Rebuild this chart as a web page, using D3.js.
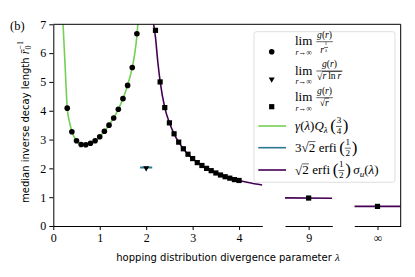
<!DOCTYPE html>
<html>
<head>
<meta charset="utf-8">
<script src="https://cdn.jsdelivr.net/npm/d3@7"></script>
<style>
  body { margin: 0; background: #fff; }
  svg { display: block; }
</style>
</head>
<body>
<div id="chart"></div>
<script>
// values
const dotLam = [0.3,0.4,0.5,0.6,0.7,0.8,0.9,1.0,1.1,1.2,1.3,1.4,1.5,1.6,1.7,1.8];
const dotVal = [4.09,3.27,2.96,2.83,2.82,2.87,2.96,3.10,3.29,3.50,3.75,4.05,4.42,4.88,5.50,6.67];
const triLam = [2.0];
const triVal = [1.99];
const sqLam = [2.2,2.3,2.4,2.5,2.6,2.7,2.8,2.9,3.0,3.1,3.2,3.3,3.4,3.5,3.6,3.7,3.8,3.9,4.0];
const sqVal = [6.79,5.0,4.11,3.58,3.2,2.91,2.68,2.49,2.34,2.2,2.1,2.0,1.92,1.84,1.77,1.71,1.66,1.61,1.58];
const sq9Lam = [9];
const sq9Val = [0.97];
const sqInfLam = [0];   // the "infinity" panel is centred on 0
const sqInfVal = [0.68];

// theory curves, sampled by eye
const greenLam = [0.21,0.25,0.3,0.35,0.4,0.5,0.6,0.7,0.8,0.9,1.0,1.1,1.2,1.3,1.4,1.5,1.6,1.7,1.75,1.8,1.82];
const greenVal = [7.0,5.7,4.1,3.6,3.28,2.96,2.84,2.82,2.87,2.96,3.10,3.29,3.50,3.75,4.05,4.42,4.88,5.50,5.95,6.6,7.0];
const tealLam = [1.87,2.13];
const tealVal = [2.03,2.03];
const purpleLam = [2.16,2.2,2.25,2.3,2.4,2.5,2.6,2.7,2.8,2.9,3.0,3.2,3.4,3.6,3.8,4.0,4.2,4.5];
const purpleVal = [7.0,6.55,5.7,5.02,4.11,3.58,3.2,2.91,2.68,2.49,2.34,2.1,1.92,1.77,1.66,1.58,1.51,1.42];
const purple9Lam = [8.49,9.51];
const purple9Val = [0.975,0.965];
const purpleInfLam = [-0.5,0.5];
const purpleInfVal = [0.68,0.68];

const yTicks = [0,1,2,3,4,5,6,7];
const mainTicks = [0,1,2,3,4];
const nineTicks = [9];
const infTicks = [0];

const GREEN = "#74d055", TEAL = "#2a788e", PURPLE = "#440154";
const SANS = "'DejaVu Sans', sans-serif";
const MF = "'Liberation Serif', 'DejaVu Serif', serif";

const W = 415, H = 277;
const yTop = 24.3, yBot = 226;

const svg = d3.select("#chart").append("svg")
  .attr("width", W).attr("height", H);

const y = d3.scaleLinear().domain([0, 7]).range([yBot, yTop]);
const xMain = d3.scaleLinear().domain([0, 4.5]).range([53.3, 262.3]);
const x9 = d3.scaleLinear().domain([8.49, 9.51]).range([285, 332.3]);
const xInf = d3.scaleLinear().domain([-0.5, 0.5]).range([354.3, 400.7]);

const zip = (a, b) => a.map((v, i) => [v, b[i]]);

const panels = [
  {id: "p0", x: xMain, ticks: mainTicks, fmt: d3.format("d")},
  {id: "p1", x: x9, ticks: nineTicks, fmt: d3.format("d")},
  {id: "p2", x: xInf, ticks: infTicks, fmt: () => "\u221e"}
];

const defs = svg.append("defs");
panels.forEach(p => {
  const r = p.x.range();
  defs.append("clipPath").attr("id", p.id)
    .append("rect").attr("x", r[0]).attr("y", yTop)
    .attr("width", r[1] - r[0]).attr("height", yBot - yTop);
});

function curve(p, lam, val, color, w) {
  const line = d3.line().x(d => p.x(d[0])).y(d => y(d[1])).curve(d3.curveMonotoneX);
  svg.append("path").datum(zip(lam, val))
    .attr("clip-path", "url(#" + p.id + ")")
    .attr("fill", "none").attr("stroke", color)
    .attr("stroke-width", w || 1.6).attr("d", line);
}

curve(panels[0], greenLam, greenVal, GREEN);
curve(panels[0], tealLam, tealVal, TEAL, 1.8);
curve(panels[0], purpleLam, purpleVal, PURPLE);
curve(panels[1], purple9Lam, purple9Val, PURPLE);
curve(panels[2], purpleInfLam, purpleInfVal, PURPLE);

// markers
function dots(p, lam, val) {
  svg.append("g").selectAll("circle").data(zip(lam, val)).join("circle")
    .attr("cx", d => p.x(d[0])).attr("cy", d => y(d[1]))
    .attr("r", 2.8).attr("fill", "#000");
}
function squares(p, lam, val) {
  svg.append("g").selectAll("rect").data(zip(lam, val)).join("rect")
    .attr("x", d => p.x(d[0]) - 2.6).attr("y", d => y(d[1]) - 2.6)
    .attr("width", 5.2).attr("height", 5.2).attr("fill", "#000");
}
const triDown = "M-3,-2.4L3,-2.4L0,2.8Z";
function tris(p, lam, val) {
  svg.append("g").selectAll("path").data(zip(lam, val)).join("path")
    .attr("transform", d => `translate(${p.x(d[0])},${y(d[1])})`)
    .attr("d", triDown).attr("fill", "#000");
}
dots(panels[0], dotLam, dotVal);
tris(panels[0], triLam, triVal);
squares(panels[0], sqLam, sqVal);
squares(panels[1], sq9Lam, sq9Val);
squares(panels[2], sqInfLam, sqInfVal);

// axes
panels.forEach(p => {
  const g = svg.append("g").attr("transform", `translate(0,${yBot})`)
    .call(d3.axisBottom(p.x).tickValues(p.ticks).tickFormat(p.fmt)
      .tickSize(4).tickSizeOuter(0).tickPadding(3));
  g.selectAll("text").attr("font-family", MF).attr("font-size", 12).attr("fill", "#000");
  g.selectAll("line,path").attr("stroke", "#000").attr("stroke-width", 1);
});
const gy = svg.append("g").attr("transform", `translate(${xMain.range()[0]},0)`)
  .call(d3.axisLeft(y).tickValues(yTicks).tickFormat(d3.format("d"))
    .tickSize(4).tickSizeOuter(0).tickPadding(3));
gy.selectAll("text").attr("font-family", MF).attr("font-size", 12).attr("fill", "#000");
gy.selectAll("line,path").attr("stroke", "#000").attr("stroke-width", 1);

// top and right spines
svg.append("line").attr("x1", xMain.range()[0]).attr("x2", xInf.range()[1])
  .attr("y1", yTop).attr("y2", yTop).attr("stroke", "#000");
svg.append("line").attr("x1", xInf.range()[1]).attr("x2", xInf.range()[1])
  .attr("y1", yTop).attr("y2", yBot).attr("stroke", "#000");

// labels
svg.append("text").attr("x", 10).attr("y", 30)
  .attr("font-family", MF).attr("font-size", 12.5).text("(b)");

const xl = svg.append("text").attr("x", 228).attr("y", 261)
  .attr("text-anchor", "middle").attr("font-family", SANS).attr("font-size", 10);
xl.append("tspan").text("hopping distribution divergence parameter ");
xl.append("tspan").attr("font-family", MF).attr("font-style", "italic").attr("font-size", 11).text("\u03bb");

const yl = svg.append("text").attr("transform", "translate(28.5,122) rotate(-90)")
  .attr("text-anchor", "middle").attr("font-family", SANS).attr("font-size", 10);
yl.append("tspan").text("median inverse decay length ");
yl.append("tspan").attr("font-family", MF).attr("font-style", "italic").attr("font-size", 12).text("r\u0304");
yl.append("tspan").attr("font-family", MF).attr("font-size", 8).attr("dy", 2.5).text("0");
yl.append("tspan").attr("font-family", MF).attr("font-size", 8).attr("dx", -4).attr("dy", -8).text("\u22121");

// legend
const leg = svg.append("g");
leg.append("rect").attr("x", 254).attr("y", 31.7).attr("width", 141).attr("height", 150.6)
  .attr("rx", 2.5).attr("fill", "#fff").attr("fill-opacity", 0.85)
  .attr("stroke", "#d6d6d6").attr("stroke-width", 0.8);

// tiny math typesetter: lays pieces left to right, returns end x
function run(g, items, x, yb, fs) {
  items.forEach(it => {
    if (typeof it === "string") it = {t: it};
    if (it.gap !== undefined) {
      x += it.gap;
    } else if (it.t !== undefined) {
      const el = g.append("text").attr("x", x).attr("y", yb + (it.dy || 0) * fs)
        .attr("font-family", MF).attr("font-size", fs * (it.s || 1))
        .attr("font-style", it.i ? "italic" : "normal").text(it.t);
      x += el.node().getComputedTextLength() + (it.sp || 0);
    } else if (it.frac) {
      const s = fs * (it.s || 0.7);
      const barY = yb + (it.dy || 0) * fs - 0.27 * fs;
      const gn = g.append("g"), gd = g.append("g");
      const wn = run(gn, it.frac[0], 0, barY - 1.4 - 0.22 * s, s);
      const wd = run(gd, it.frac[1], 0, barY + 1.3 + 0.7 * s + (it.dd || 0), s);
      const w = Math.max(wn, wd) + 1.5;
      gn.attr("transform", `translate(${x + (w - wn) / 2},0)`);
      gd.attr("transform", `translate(${x + (w - wd) / 2},0)`);
      g.append("line").attr("x1", x).attr("x2", x + w).attr("y1", barY).attr("y2", barY)
        .attr("stroke", "#000").attr("stroke-width", 0.6);
      x += w + 0.8;
    } else if (it.sqrt) {
      const s = fs * (it.s || 1);
      const r = g.append("text").attr("x", x).attr("y", yb + 0.05 * s)
        .attr("font-family", MF).attr("font-size", s).text("\u221a");
      const x0 = x + r.node().getComputedTextLength();
      const x1 = run(g, it.sqrt, x0, yb, s);
      g.append("line").attr("x1", x0 - 0.3).attr("x2", x1 + 0.3)
        .attr("y1", yb - 0.78 * s).attr("y2", yb - 0.78 * s)
        .attr("stroke", "#000").attr("stroke-width", 0.6);
      x = x1 + 0.5;
    } else if (it.lim) {
      const el = g.append("text").attr("x", x).attr("y", yb)
        .attr("font-family", MF).attr("font-size", fs).text("lim");
      const w = el.node().getComputedTextLength();
      const gs = g.append("g");
      const ws = run(gs, it.lim, 0, yb + 0.72 * fs, fs * 0.6);
      const cx = x + Math.max(w, ws) / 2;
      el.attr("x", cx - w / 2);
      gs.attr("transform", `translate(${cx - ws / 2},0)`);
      x += Math.max(w, ws) + 4;
    }
  });
  return x;
}

const FS = 13;
const gr = [{t: "g", i: 1}, "(", {t: "r", i: 1}, ")"];
const rInf = [{t: "r", i: 1}, "\u2192\u221e"];
const big = c => ({t: c, s: 1.3, dy: 0.08});
const half = {frac: [["1"], ["2"]], s: 0.7};

const legRows = [
  {type: "dot", y: 51.7, lift: 1, items: [{lim: rInf},
    {frac: [gr, [{t: "r", i: 1}, {frac: [["1"], [{t: "\u03bb", i: 1}]], s: 0.5, dy: -0.28}]], s: 0.74, dd: 3}]},
  {type: "tri", y: 80, items: [{lim: rInf},
    {frac: [gr, [{sqrt: [{t: "r", i: 1}, {gap: 2}, "ln", {gap: 2}, {t: "r", i: 1}]}]], s: 0.74}]},
  {type: "sq", y: 106.7, items: [{lim: rInf},
    {frac: [gr, [{sqrt: [{t: "r", i: 1}]}]], s: 0.74}]},
  {type: "line", color: GREEN, y: 126, items: [{t: "\u03b3", i: 1}, "(", {t: "\u03bb", i: 1}, ")",
    {t: "Q", i: 1}, {t: "\u03bb", i: 1, s: 0.7, dy: 0.25, sp: 2.5}, big("("), {frac: [["3"], ["4"]], s: 0.7}, big(")")]},
  {type: "line", color: TEAL, y: 147.7, items: ["3", {sqrt: ["2"]}, {gap: 3}, "erfi", {gap: 2.5},
    big("("), half, big(")")]},
  {type: "line", color: PURPLE, y: 170, items: [{sqrt: ["2"]}, {gap: 3}, "erfi", {gap: 2.5},
    big("("), half, big(")"), {gap: 2.5}, {t: "\u03c3", i: 1}, {t: "u", i: 1, s: 0.7, dy: 0.25},
    "(", {t: "\u03bb", i: 1}, ")"]}
];

legRows.forEach(row => {
  const mx = 271.7;
  if (row.type === "dot") leg.append("circle").attr("cx", mx).attr("cy", row.y).attr("r", 2.8);
  if (row.type === "sq") leg.append("rect").attr("x", mx - 2.6).attr("y", row.y - 2.6)
    .attr("width", 5.2).attr("height", 5.2);
  if (row.type === "tri") leg.append("path").attr("transform", `translate(${mx},${row.y})`).attr("d", triDown);
  if (row.type === "line") leg.append("line").attr("x1", 258.3).attr("x2", 286)
    .attr("y1", row.y).attr("y2", row.y).attr("stroke", row.color).attr("stroke-width", 1.6);
  const g = leg.append("g");
  const yb = row.type === "line" ? row.y + 4 : row.y - 5.5 - (row.lift || 0);
  run(g, row.items, 295, yb, FS);
});
</script>
</body>
</html>
